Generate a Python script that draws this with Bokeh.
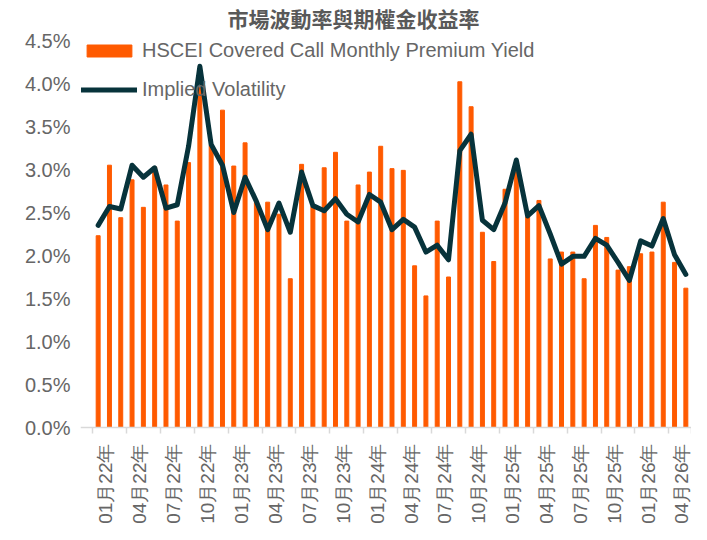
from math import pi
from bokeh.plotting import figure
from bokeh.models import (Range1d, FixedTicker, Legend, LegendItem, Label,
                          PrintfTickFormatter)
from bokeh.embed import file_html
from bokeh.resources import INLINE

# ---- data -------------------------------------------------------------
title_text = "市場波動率與期權金收益率"
series_bar = "HSCEI Covered Call Monthly Premium Yield"
series_line = "Implied Volatility"

# monthly categories Jan-2022 .. May-2026
months = [f"{m:02d}月{y}年" for y in (22, 23, 24, 25, 26) for m in range(1, 13)][:53]

premium_yield = [2.23, 3.05, 2.44, 2.88, 2.56, 3.03, 2.82, 2.40, 3.08, 3.95,
                 3.28, 3.69, 3.04, 3.31, 2.62, 2.62, 2.48, 1.73, 3.06, 2.57,
                 3.02, 3.20, 2.40, 2.82, 2.97, 3.27, 3.01, 2.99, 1.88, 1.53,
                 2.40, 1.75, 4.02, 3.73, 2.27, 1.93, 2.77, 2.97, 2.45, 2.64,
                 1.96, 2.04, 2.04, 1.73, 2.35, 2.21, 1.83, 1.87, 2.02, 2.04,
                 2.62, 1.92, 1.62]

implied_vol = [2.35, 2.57, 2.54, 3.05, 2.91, 3.02, 2.55, 2.59, 3.27, 4.20,
               3.29, 3.05, 2.50, 2.91, 2.63, 2.30, 2.61, 2.27, 2.97, 2.58,
               2.52, 2.66, 2.48, 2.39, 2.71, 2.62, 2.30, 2.42, 2.33, 2.04,
               2.12, 1.95, 3.22, 3.41, 2.41, 2.30, 2.61, 3.11, 2.46, 2.58,
               2.25, 1.90, 1.99, 1.99, 2.20, 2.12, 1.92, 1.71, 2.17, 2.11,
               2.43, 2.01, 1.78]

tick_labels = ["01月22年", "04月22年", "07月22年", "10月22年",
               "01月23年", "04月23年", "07月23年", "10月23年",
               "01月24年", "04月24年", "07月24年", "10月24年",
               "01月25年", "04月25年", "07月25年", "10月25年",
               "01月26年", "04月26年"]

y_ticks = [0.0, 0.5, 1.0, 1.5, 2.0, 2.5, 3.0, 3.5, 4.0, 4.5]

# ---- layout -----------------------------------------------------------
idx = list(range(len(months)))
label_idx = [months.index(t) for t in tick_labels]
major_pos = [i + 0.6875 for i in label_idx]
minor_pos = [i - 0.5 for i in label_idx] + [len(months) - 0.5]

W, H = 691, 524
FRAME_LEFT = 80          # frame edge (legend lives inside it)
CAT_LEFT = 92            # pixel where the first category starts
Y_TOP_PX, Y_ZERO_PX = 40, 427          # pixel rows of 4.5% and 0%
px_per_pct = (Y_ZERO_PX - Y_TOP_PX) / 4.5
y_start = -(H - Y_ZERO_PX) / px_per_pct
y_end = 4.5 + Y_TOP_PX / px_per_pct
cat_px = (W - CAT_LEFT) / len(months)
x_start = -0.5 - (CAT_LEFT - FRAME_LEFT) / cat_px

TXT = "#666666"
FONT = "Liberation Sans"

p = figure(width=W, height=H, output_backend="svg", toolbar_location=None,
           x_range=Range1d(x_start, len(months) - 0.5),
           y_range=Range1d(y_start, y_end))
p.min_border_left = FRAME_LEFT
p.min_border_right = 0
p.min_border_top = 0
p.min_border_bottom = 0
p.outline_line_color = None
p.xgrid.visible = False
p.ygrid.visible = False
p.background_fill_color = "white"
p.border_fill_color = "white"

bars = p.vbar(x=idx, top=premium_yield, width=0.35, color="#FF5A00")
line = p.line(x=idx, y=implied_vol, line_width=5, color="#07333B",
              line_join="round", line_cap="round")

# y axis
ya = p.yaxis[0]
ya.ticker = FixedTicker(ticks=y_ticks)
ya.formatter = PrintfTickFormatter(format="%.1f%%")
ya.axis_line_color = None
ya.major_tick_line_color = None
ya.minor_tick_line_color = None
ya.major_tick_out = 0
ya.major_tick_in = 0
ya.major_label_standoff = 10
ya.major_label_text_font = FONT
ya.major_label_text_font_size = "20px"
ya.major_label_text_color = TXT

# x axis (drawn at the 0% line)
xa = p.xaxis[0]
xa.fixed_location = 0
xa.ticker = FixedTicker(ticks=major_pos, minor_ticks=minor_pos)
xa.major_label_overrides = {pos: lab for pos, lab in zip(major_pos, tick_labels)}
xa.major_tick_line_color = None
xa.major_tick_out = 0
xa.major_tick_in = 0
xa.minor_tick_in = 0
xa.minor_tick_out = 6
xa.minor_tick_line_color = "#d9d9d9"
xa.minor_tick_line_width = 1.5
xa.axis_line_color = "#d9d9d9"
xa.axis_line_width = 1.5
xa.major_label_orientation = pi / 2
xa.major_label_standoff = 10
xa.major_label_text_font = FONT
xa.major_label_text_font_size = "19px"
xa.major_label_text_color = TXT

# title
title = Label(x=(353 - CAT_LEFT) / cat_px - 0.5,
              y=4.5 + (Y_TOP_PX - 17) / px_per_pct, text=title_text,
              text_align="center", text_baseline="middle",
              text_font="Noto Sans CJK TC", text_font_size="21px",
              text_font_style="bold", text_color="#595959")
p.add_layout(title)

legend = Legend(items=[LegendItem(label=series_bar, renderers=[bars]),
                       LegendItem(label=series_line, renderers=[line])],
                location=(81 - FRAME_LEFT, 423), orientation="vertical",
                glyph_width=56, glyph_height=15, label_standoff=5,
                label_height=24, spacing=15, padding=0, margin=0,
                border_line_color=None, background_fill_alpha=0,
                label_text_font=FONT, label_text_font_size="20px",
                label_text_color=TXT)
p.add_layout(legend)

open("out.html", "w").write(file_html(p, INLINE))
